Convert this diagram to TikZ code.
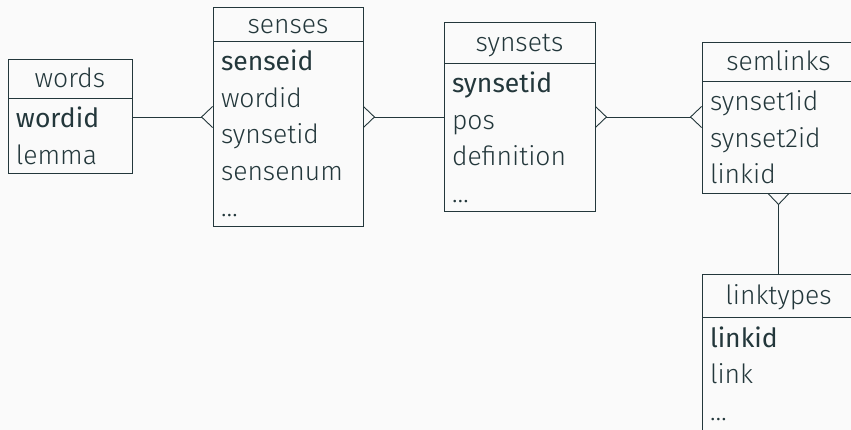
\documentclass[tikz,border=0pt]{standalone}
\usepackage{fontspec}
\setmainfont{Fira Sans Light}[BoldFont={Fira Sans}]
\usetikzlibrary{positioning,arrows.meta}
\definecolor{tabdark}{HTML}{23373B}
\definecolor{tabbg}{HTML}{FAFAFA}
\tikzset{crow/.tip={Straight Barb[reversed, length=11pt, width=21pt]}}

\begin{document}
\begin{tikzpicture}[x=1pt,y=-1pt]
	\tikzstyle{every node}+=[inner sep=0pt, outer sep=0pt, text=tabdark, font=\fontsize{26.5}{36.5}\selectfont]
	\tikzstyle{head}=[draw=tabdark, line width=0.9pt, anchor=north west, minimum height=39pt, text height=24pt, text depth=5pt]
	\tikzstyle{body}=[draw=tabdark, line width=0.9pt, align=left, inner xsep=8pt, execute at begin node={\rule{0pt}{30pt}}, execute at end node={\rule[-9pt]{0pt}{0pt}}]
	\tikzstyle{link}=[draw=tabdark, line width=0.9pt]
	\useasboundingbox (0,0) rectangle (851,430);
	\fill [tabbg] (0,0) rectangle (851,430);
	\clip (0,0) rectangle (851,430);
	% words
	\node [head, minimum width=124pt] (wordsh) at (8,59) {words};
	\node [body, text width=108pt, below=0pt of wordsh] (wordsb) {\textbf{wordid}\\lemma};
	% senses
	\node [head, minimum width=150pt, minimum height=34pt] (sensesh) at (213,7) {senses};
	\node [body, text width=134pt, below=0pt of sensesh] (sensesb) {\textbf{senseid}\\wordid\\synsetid\\sensenum\\\dots};
	% synsets
	\node [head, minimum width=151pt, minimum height=41pt] (synsetsh) at (444,22) {synsets};
	\node [body, text width=135pt, below=0pt of synsetsh] (synsetsb) {\textbf{synsetid}\\pos\\definition\\\dots};
	% semlinks
	\node [head, minimum width=153pt] (semlinksh) at (702,42) {semlinks};
	\node [body, text width=137pt, below=0pt of semlinksh] (semlinksb) {synset1id\\synset2id\\linkid};
	% linktypes
	\node [head, minimum width=153pt, minimum height=43pt] (linktypesh) at (702,274) {linktypes};
	\node [body, text width=137pt, below=0pt of linktypesh, execute at end node={\rule[-14pt]{0pt}{0pt}}] (linktypesb) {\textbf{linkid}\\link\\\dots};
	% relations
	\coordinate (rowline) at (0,117);
	\draw [link, -crow] (wordsb.east |- rowline) -- (sensesb.west |- rowline);
	\draw [link, crow-] (sensesb.east |- rowline) -- (synsetsb.west |- rowline);
	\draw [link, crow-crow] (synsetsb.east |- rowline) -- (semlinksb.west |- rowline);
	\draw [link, crow-] (semlinksb.south) -- (linktypesh.north);
\end{tikzpicture}
\end{document}
